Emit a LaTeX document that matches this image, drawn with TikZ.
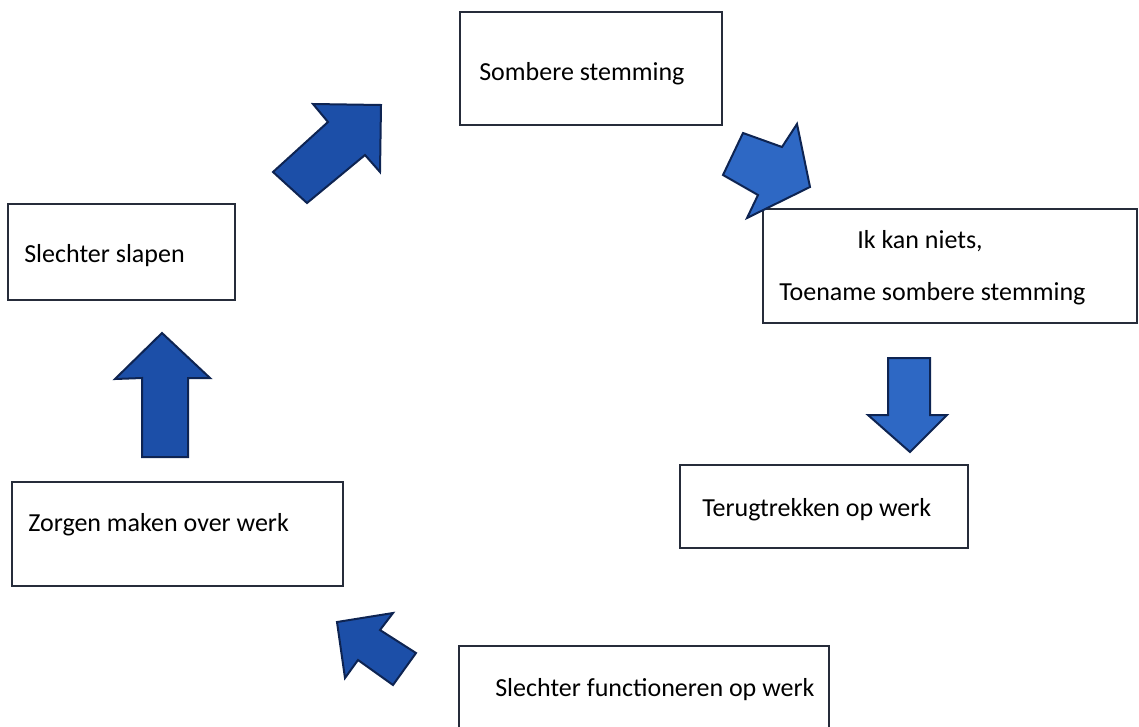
\documentclass[tikz,border=0pt]{standalone}
\usepackage{fontspec}
\setmainfont{Carlito}
\usetikzlibrary{fit}
\definecolor{arrowfill}{HTML}{1C4FA8}
\definecolor{arrowfilllight}{HTML}{2E68C4}
\definecolor{arrowline}{HTML}{0E2452}
\definecolor{boxline}{HTML}{262C3A}
\tikzset{
  box/.style={draw=boxline, line width=2.2pt, fill=white, inner sep=0pt},
  txt/.style={font=\fontsize{19.5}{23}\selectfont, inner sep=0pt, anchor=west, text=black},
  blockarrow/.style={fill=arrowfill, draw=arrowline, line width=1.5pt, line join=miter},
  lightarrow/.style={blockarrow, fill=arrowfilllight},
}
\begin{document}
\begin{tikzpicture}[x=0.75pt, y=-0.75pt]
  \useasboundingbox (0,0) rectangle (1139,726);
  \clip (0,0) rectangle (1139,726);

  % boxes of the cycle
  \node[box, fit={(460,12) (722,125)}] (mood) {};
  \node[box, fit={(763,209) (1137,323)}] (cant) {};
  \node[box, fit={(680,465) (968,548)}] (withdraw) {};
  \node[box, fit={(459,646) (829,745)}] (work) {};
  \node[box, fit={(12,482) (343,586)}] (worry) {};
  \node[box, fit={(8,204) (235,300)}] (sleep) {};

  % labels
  \node[txt] (tmood) at (479,74) {Sombere stemming};
  \node[txt] (tcant1) at (857,241) {Ik kan niets,};
  \node[txt] (tcant2) at (779,294) {Toename sombere stemming};
  \node[txt] (twithdraw) at (702,510) {Terugtrekken op werk};
  \node[txt] (twork) at (495,690) {Slechter functioneren op werk};
  \node[txt] (tworry) at (28,525) {Zorgen maken over werk};
  \node[txt] (tsleep) at (24,256) {Slechter slapen};

  % block arrows between the boxes
  % sleep -> mood (north-east)
  \draw[blockarrow] (273,172) -- (328,122) -- (313,104) -- (381,105)
        -- (380,172) -- (365,155) -- (307,203) -- cycle;
  % mood -> cant (south-east)
  \draw[lightarrow] (743,133) -- (782,147) -- (797,124) -- (810,187)
        -- (747,218) -- (758,195) -- (723,175) -- cycle;
  % cant -> withdraw (down)
  \draw[lightarrow] (888,358) -- (930,358) -- (930,415) -- (947,415)
        -- (910,452) -- (868,415) -- (888,415) -- cycle;
  % work -> worry (north-west)
  \draw[blockarrow] (416,653) -- (380,630) -- (393,613) -- (337,622)
        -- (345,678) -- (358,660) -- (393,685) -- cycle;
  % worry -> sleep (up)
  \draw[blockarrow] (142,457) -- (142,378) -- (115,379) -- (162,333)
        -- (210,378) -- (188,378) -- (188,457) -- cycle;
\end{tikzpicture}
\end{document}
